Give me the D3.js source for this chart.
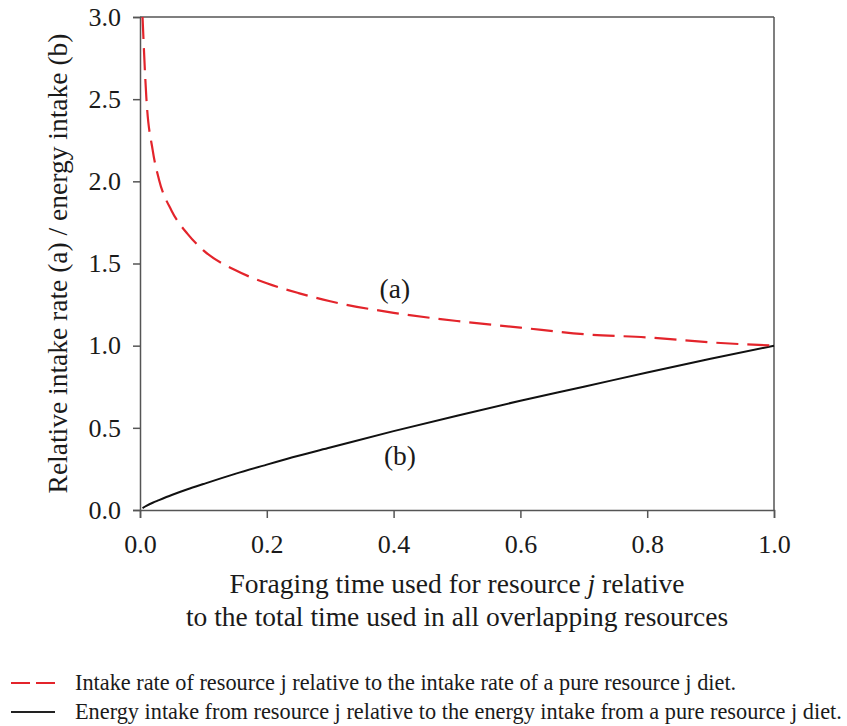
<!DOCTYPE html>
<html>
<head>
<meta charset="utf-8">
<script src="https://cdn.jsdelivr.net/npm/d3@7"></script>
<style>
  html, body { margin: 0; padding: 0; background: #fff; }
  svg { display: block; font-family: "Liberation Serif", "Times New Roman", serif; }
</style>
</head>
<body>
<svg id="chart" width="847" height="726"></svg>
<script>
// Foraging time share for resource j (fraction of total time)
const timeShare = [0.004, 0.01, 0.02, 0.03, 0.05, 0.075, 0.1, 0.15, 0.2, 0.25, 0.3, 0.4, 0.5, 0.6, 0.7, 0.8, 0.9, 1.0];
// (a) intake rate relative to a pure resource j diet
const intakeRate = [3.0, 2.51, 2.19, 2.01, 1.82, 1.68, 1.58, 1.46, 1.38, 1.32, 1.27, 1.20, 1.15, 1.11, 1.07, 1.05, 1.02, 1.0];
// (b) energy intake relative to a pure resource j diet
const energyIntake = [0.012, 0.025, 0.044, 0.06, 0.091, 0.126, 0.158, 0.22, 0.276, 0.33, 0.38, 0.48, 0.574, 0.665, 0.75, 0.837, 0.92, 1.0];

const xTicks = [0, 0.2, 0.4, 0.6, 0.8, 1.0];
const yTicks = [0, 0.5, 1.0, 1.5, 2.0, 2.5, 3.0];
const legendLabels = [
  "Intake rate of resource j relative to the intake rate of a pure resource j diet.",
  "Energy intake from resource j relative to the energy intake from a pure resource j diet."
];

const svg = d3.select("#chart");
const m = { left: 140, right: 73, top: 17, bottom: 216 };
const W = 847, H = 726;
const x = d3.scaleLinear().domain([0, 1]).range([m.left, W - m.right]);
const y = d3.scaleLinear().domain([0, 3]).range([H - m.bottom, m.top]);

const axisColor = "#555";
const textColor = "#1a1a1a";
const serif = "'Liberation Serif', 'Times New Roman', serif";
const tickFont = 26;
const titleFont = 27.5;

// frame: top and right edges
svg.append("line").attr("x1", x(0)).attr("x2", x(1)).attr("y1", y(3)).attr("y2", y(3))
  .attr("stroke", axisColor).attr("stroke-width", 1.5);
svg.append("line").attr("x1", x(1)).attr("x2", x(1)).attr("y1", y(3)).attr("y2", y(0))
  .attr("stroke", axisColor).attr("stroke-width", 1.5);

// x axis
const gx = svg.append("g").attr("transform", `translate(0,${y(0)})`)
  .call(d3.axisBottom(x).tickValues(xTicks).tickFormat(d3.format(".1f")).tickSize(8).tickPadding(17));
// y axis
const gy = svg.append("g").attr("transform", `translate(${x(0)},0)`)
  .call(d3.axisLeft(y).tickValues(yTicks).tickFormat(d3.format(".1f")).tickSize(7).tickPadding(12));

[gx, gy].forEach(g => {
  g.attr("font-family", serif).attr("font-size", tickFont);
  g.select(".domain").attr("stroke", axisColor).attr("stroke-width", 1.5);
  g.selectAll(".tick line").attr("stroke", axisColor).attr("stroke-width", 1.5);
  g.selectAll(".tick text").attr("fill", textColor);
});

// series
const pts = (ys) => timeShare.map((t, i) => [t, ys[i]]);
const line = d3.line().x(d => x(d[0])).y(d => y(d[1])).curve(d3.curveMonotoneX);

svg.append("path").datum(pts(energyIntake)).attr("d", line)
  .attr("fill", "none").attr("stroke", "#111").attr("stroke-width", 2);
svg.append("path").datum(pts(intakeRate)).attr("d", line)
  .attr("fill", "none").attr("stroke", "#e3242b").attr("stroke-width", 2.2)
  .attr("stroke-dasharray", "22,9");

// curve labels
svg.append("text").attr("x", x(0.402)).attr("y", y(1.29)).attr("text-anchor", "middle")
  .attr("font-size", titleFont).attr("fill", textColor).text("(a)");
svg.append("text").attr("x", x(0.41)).attr("y", y(0.274)).attr("text-anchor", "middle")
  .attr("font-size", titleFont).attr("fill", textColor).text("(b)");

// axis titles
const xt = svg.append("text").attr("text-anchor", "middle").attr("font-size", titleFont).attr("fill", textColor);
xt.append("tspan").attr("x", (x(0) + x(1)) / 2).attr("y", 593).text("Foraging time used for resource ")
  .append("tspan").attr("font-style", "italic").text("j");
xt.append("tspan").text(" relative");
xt.append("tspan").attr("x", (x(0) + x(1)) / 2).attr("y", 626).text("to the total time used in all overlapping resources");

svg.append("text").attr("transform", `translate(67,${(y(0) + y(3)) / 2}) rotate(-90)`)
  .attr("text-anchor", "middle").attr("font-size", titleFont).attr("fill", textColor)
  .text("Relative intake rate (a) / energy intake (b)");

// legend
const legend = svg.append("g");
const legendStyles = [
  { stroke: "#e3242b", dash: "19,6", width: 2.2 },
  { stroke: "#222", dash: null, width: 2 }
];
legendLabels.forEach((lab, i) => {
  const ly = 683 + i * 29;
  legend.append("line").attr("x1", 11).attr("x2", 55).attr("y1", ly).attr("y2", ly)
    .attr("stroke", legendStyles[i].stroke).attr("stroke-width", legendStyles[i].width)
    .attr("stroke-dasharray", legendStyles[i].dash);
  legend.append("text").attr("x", 75).attr("y", ly + 7).attr("font-size", 22.3).attr("fill", textColor).text(lab);
});
</script>
</body>
</html>
